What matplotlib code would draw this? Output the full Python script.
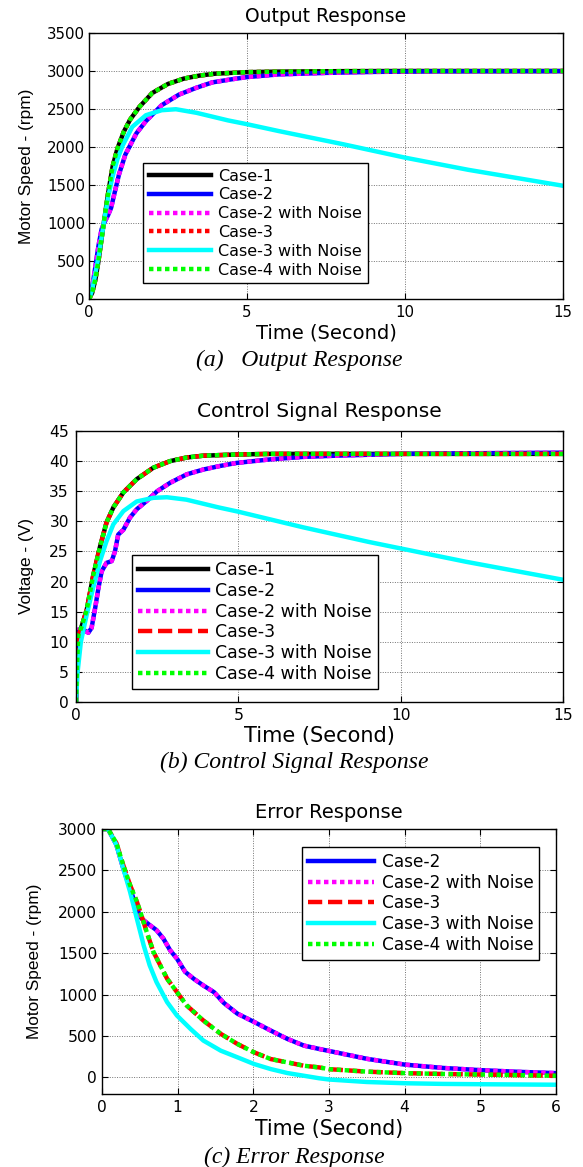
import matplotlib
matplotlib.use("Agg")
import matplotlib.pyplot as plt

W, H = 583, 1167

# ---------------- Panel (a): Output Response ----------------
t_a_fast = [0, 0.1, 0.2, 0.3, 0.45, 0.6, 0.75, 0.9, 1.1, 1.3, 1.6, 2.0, 2.5, 3.0, 3.5, 4.0, 5.0, 6, 8, 10, 15]
v_a_fast = [0, 80, 250, 500, 950, 1380, 1750, 1980, 2200, 2360, 2530, 2710, 2830, 2900, 2940, 2965, 2985, 2992, 2998, 3000, 3000]
t_a_slow = [0, 0.1, 0.2, 0.3, 0.4, 0.5, 0.6, 0.7, 0.8, 0.95, 1.15, 1.5, 1.8, 2.3, 2.85, 3.4, 3.9, 4.5, 5.0, 6.0, 7.5, 9, 11, 15]
v_a_slow = [0, 150, 420, 700, 920, 1020, 1100, 1200, 1380, 1640, 1900, 2180, 2340, 2550, 2690, 2780, 2850, 2890, 2920, 2955, 2975, 2988, 2995, 2998]
t_a_c3n = [0, 0.1, 0.2, 0.32, 0.48, 0.6, 0.74, 0.9, 1.06, 1.37, 1.8, 2.3, 2.75, 3.4, 4.4, 5, 6, 7, 8, 9, 10, 11, 12, 13, 14, 15]
v_a_c3n = [0, 120, 330, 600, 1030, 1330, 1600, 1840, 2015, 2265, 2418, 2484, 2497, 2450, 2350, 2300, 2210, 2125, 2040, 1950, 1860, 1780, 1700, 1630, 1560, 1490]

# ---------------- Panel (b): Control Signal Response ----------------
t_b_fast = [0, 0.03, 0.07, 0.17, 0.33, 0.53, 0.74, 0.94, 1.15, 1.46, 1.87, 2.38, 2.9, 3.41, 3.92, 4.95, 6, 8, 10, 15]
v_b_fast = [0, 6, 11, 12.5, 15.3, 21, 25.8, 29.8, 32.3, 34.8, 37, 38.9, 40, 40.6, 40.9, 41.1, 41.2, 41.2, 41.2, 41.2]
t_b_slow = [0, 0.03, 0.07, 0.23, 0.38, 0.48, 0.59, 0.69, 0.79, 0.94, 1.1, 1.2, 1.3, 1.46, 1.66, 1.87, 2.18, 2.5, 2.9, 3.41, 3.92, 4.44, 4.95, 6, 7, 8, 10, 12, 15]
v_b_slow = [0, 7, 12, 12, 11.5, 12.3, 15.6, 18.9, 21.7, 23.1, 23.4, 25, 27.8, 28.6, 30.6, 32, 33.4, 35, 36.4, 37.8, 38.6, 39.2, 39.7, 40.3, 40.7, 40.9, 41.2, 41.3, 41.4]
t_b_c3n = [0, 0.05, 0.15, 0.33, 0.53, 0.74, 0.94, 1.15, 1.46, 1.87, 2.38, 2.8, 3.4, 4.4, 5, 6, 7, 8, 9, 10, 11, 12, 13, 14, 15]
v_b_c3n = [0, 5, 10, 14.5, 19, 23.4, 26.7, 29.5, 31.7, 33.3, 33.9, 34, 33.6, 32.3, 31.6, 30.3, 29, 27.8, 26.6, 25.5, 24.4, 23.3, 22.3, 21.3, 20.3]

# ---------------- Panel (c): Error Response ----------------
t_c_c2 = [0, 0.08, 0.19, 0.28, 0.37, 0.46, 0.52, 0.63, 0.72, 0.81, 0.9, 0.99, 1.1, 1.21, 1.34, 1.48, 1.61, 1.79, 2.01, 2.23, 2.45, 2.67, 2.87, 3.0, 3.5, 4.0, 4.5, 5.0, 5.5, 6.0]
v_c_c2 = [3000, 3000, 2810, 2527, 2284, 2042, 1920, 1840, 1779, 1678, 1536, 1435, 1274, 1193, 1110, 1030, 900, 770, 670, 566, 465, 384, 344, 320, 225, 155, 115, 88, 68, 52]
t_c_c3 = [0, 0.08, 0.19, 0.28, 0.37, 0.46, 0.52, 0.59, 0.68, 0.77, 0.86, 0.99, 1.12, 1.34, 1.57, 1.79, 2.01, 2.23, 2.45, 2.67, 2.87, 3.0, 3.5, 4.0, 4.5, 5.0, 5.5, 6.0]
v_c_c3 = [3000, 3000, 2830, 2567, 2325, 2123, 1961, 1759, 1516, 1354, 1193, 1031, 869, 687, 526, 404, 303, 222, 182, 141, 121, 100, 70, 52, 42, 35, 28, 20]
t_c_c3n = [0, 0.08, 0.19, 0.28, 0.37, 0.46, 0.55, 0.63, 0.72, 0.86, 0.99, 1.17, 1.34, 1.57, 1.79, 2.01, 2.23, 2.45, 2.67, 2.87, 3.0, 3.5, 4.0, 4.5, 5.0, 5.5, 6.0]
v_c_c3n = [3000, 3000, 2810, 2527, 2244, 1920, 1597, 1354, 1152, 910, 748, 586, 445, 323, 243, 162, 101, 53, 20, -10, -25, -55, -70, -78, -82, -85, -88]

labels_ab = ["Case-1", "Case-2", "Case-2 with Noise", "Case-3", "Case-3 with Noise", "Case-4 with Noise"]
labels_c = ["Case-2", "Case-2 with Noise", "Case-3", "Case-3 with Noise", "Case-4 with Noise"]

titles = ["Output Response", "Control Signal Response", "Error Response"]
ylabels = ["Motor Speed - (rpm)", "Voltage - (V)", "Motor Speed - (rpm)"]
xlabel = "Time (Second)"
captions = ["(a)   Output Response", "(b) Control Signal Response", "(c) Error Response"]

xticks_ab = [0, 5, 10, 15]
xticks_c = [0, 1, 2, 3, 4, 5, 6]
yticks_a = [0, 500, 1000, 1500, 2000, 2500, 3000, 3500]
yticks_b = [0, 5, 10, 15, 20, 25, 30, 35, 40, 45]
yticks_c = [0, 500, 1000, 1500, 2000, 2500, 3000]

LW = 3.2
DOT = (0, (1, 0.8))
DASH = (0, (3.2, 1.3))

SANS = ["DejaVu Sans"]
YLAB = ["Liberation Sans", "DejaVu Sans"]
SERIF = ["Liberation Serif", "DejaVu Serif"]

fig = plt.figure(figsize=(W / 100, H / 100), dpi=100)
fig.patch.set_facecolor("white")


def rect(l, t, r, b):
    return [l / W, 1 - b / H, (r - l) / W, (b - t) / H]


def style(ax, xt, yt, xlim, ylim, tick_fs, ypad):
    ax.set_xlim(*xlim)
    ax.set_ylim(*ylim)
    ax.set_xticks(xt)
    ax.set_yticks(yt)
    ax.grid(True, color="0.45", linestyle=(0, (1, 1.5)), linewidth=0.7)
    ax.set_axisbelow(True)
    ax.tick_params(direction="in", top=True, right=True, length=4, width=0.8,
                   labelsize=tick_fs)
    ax.tick_params(axis="x", pad=4)
    ax.tick_params(axis="y", pad=ypad)
    for lab in ax.get_xticklabels() + ax.get_yticklabels():
        lab.set_family(SANS)
    for s in ax.spines.values():
        s.set_linewidth(1.0)
        s.set_color("black")


def labels(ax, title, tfs, ty, ylab, ylx, xlfs, xly):
    ax.set_title(title, fontsize=tfs, family=SANS, y=ty, va="center", pad=0)
    ax.set_xlabel(xlabel, fontsize=xlfs, family=SANS, va="center")
    ax.xaxis.set_label_coords(0.5, xly)
    ax.set_ylabel(ylab, fontsize=12.4, family=YLAB, va="center", ha="center")
    ax.yaxis.set_label_coords(ylx, 0.5)


def legend(ax, anchor, fs, hl, ls):
    lg = ax.legend(loc="upper left", bbox_to_anchor=anchor, borderaxespad=0,
                   handlelength=hl, handletextpad=0.45,
                   labelspacing=ls, borderpad=0.35, fancybox=False,
                   framealpha=1, edgecolor="black", prop={"family": SANS, "size": fs})
    lg.get_frame().set_linewidth(1.0)
    return lg


# ---- (a)
ax = fig.add_axes(rect(89, 33, 563, 299))
ax.plot(t_a_fast, v_a_fast, color="black", lw=LW, label=labels_ab[0])
ax.plot(t_a_slow, v_a_slow, color="#0000ff", lw=LW, label=labels_ab[1])
ax.plot(t_a_slow, v_a_slow, color="#ff00ff", lw=LW, ls=DOT, label=labels_ab[2])
ax.plot(t_a_fast, v_a_fast, color="#ff0000", lw=LW, ls=DOT, label=labels_ab[3])
ax.plot(t_a_c3n, v_a_c3n, color="#00ffff", lw=LW, label=labels_ab[4])
ax.plot(t_a_fast, v_a_fast, color="#00ff00", lw=LW, ls=DOT, label=labels_ab[5])
style(ax, xticks_ab, yticks_a, (0, 15), (0, 3500), 10.8, 3)
labels(ax, titles[0], 13.5, (299 - 16) / 266, ylabels[0], (26 - 89) / 474, 14, (299 - 333) / 266)
legend(ax, ((143 - 89) / 474, (299 - 163) / 266), 11.5, 3.9, 0.24)
fig.text(299 / W, 1 - 360 / H, captions[0], fontsize=17, family=SERIF, style="italic",
         ha="center", va="center")

# ---- (b)
ax = fig.add_axes(rect(76, 431, 563, 702))
ax.plot(t_b_fast, v_b_fast, color="black", lw=LW, label=labels_ab[0])
ax.plot(t_b_slow, v_b_slow, color="#0000ff", lw=LW, label=labels_ab[1])
ax.plot(t_b_slow, v_b_slow, color="#ff00ff", lw=LW, ls=DOT, label=labels_ab[2])
ax.plot(t_b_fast, v_b_fast, color="#ff0000", lw=LW, ls=DASH, label=labels_ab[3])
ax.plot(t_b_c3n, v_b_c3n, color="#00ffff", lw=LW, label=labels_ab[4])
ax.plot(t_b_fast, v_b_fast, color="#00ff00", lw=LW, ls=DOT, label=labels_ab[5])
style(ax, xticks_ab, yticks_b, (0, 15), (0, 45), 11.2, 5)
labels(ax, titles[1], 14.5, (702 - 412) / 271, ylabels[1], (26 - 76) / 487, 15, (702 - 736) / 271)
legend(ax, ((132 - 76) / 487, (702 - 555) / 271), 12.5, 4.0, 0.16)
fig.text(294 / W, 1 - 762 / H, captions[1], fontsize=17, family=SERIF, style="italic",
         ha="center", va="center")

# ---- (c)
ax = fig.add_axes(rect(102, 829, 556, 1094))
ax.plot(t_c_c2, v_c_c2, color="#0000ff", lw=LW, label=labels_c[0])
ax.plot(t_c_c2, v_c_c2, color="#ff00ff", lw=LW, ls=DOT, label=labels_c[1])
ax.plot(t_c_c3, v_c_c3, color="#ff0000", lw=LW, ls=DASH, label=labels_c[2])
ax.plot(t_c_c3n, v_c_c3n, color="#00ffff", lw=LW, label=labels_c[3])
ax.plot(t_c_c3, v_c_c3, color="#00ff00", lw=LW, ls=DOT, label=labels_c[4])
style(ax, xticks_c, yticks_c, (0, 6), (-200, 3000), 11.2, 3.5)
labels(ax, titles[2], 14, (1094 - 813) / 265, ylabels[2], (35 - 102) / 454, 14.8, (1094 - 1129) / 265)
legend(ax, ((302 - 102) / 454, (1094 - 847) / 265), 12.2, 3.9, 0.16)
fig.text(294 / W, 1 - 1157 / H, captions[2], fontsize=17, family=SERIF, style="italic",
         ha="center", va="center")

fig.savefig("out.png", dpi=100, facecolor="white")
